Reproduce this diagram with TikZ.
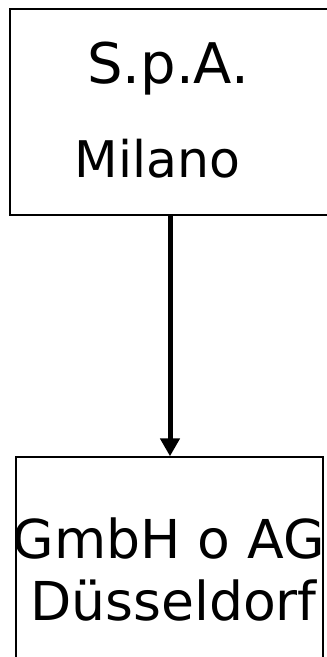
\documentclass[tikz,border=0pt]{standalone}
\usepackage{fontspec}
\setmainfont{DejaVu Sans}
\usetikzlibrary{arrows.meta}
\begin{document}
\begin{tikzpicture}[x=1pt,y=-1pt,
  box/.style={draw=black,line width=1.4pt,fill=white,inner sep=0pt},
  label/.style={anchor=base,inner sep=0pt,text=black},
  link/.style={line width=5pt,-{Triangle[length=18pt,width=19pt]}}]
\useasboundingbox (0,0) rectangle (327,657);
\clip (0,0) rectangle (327,657);
% company boxes
\node[box,minimum width=320pt,minimum height=206pt] (spa) at (170,112) {};
\node[box,minimum width=307pt,minimum height=250pt] (gmbh) at (169.5,582) {};
% labels
\node[label,font=\fontsize{56}{62}\selectfont] (spaname) at (168,83) {S.p.A.};
\node[label,font=\fontsize{50.5}{56}\selectfont] (spacity) at (157.5,177) {Milano};
\node[label,font=\fontsize{53.6}{60}\selectfont] (gmbhname) at (169,558) {GmbH o AG};
\node[label,font=\fontsize{53.6}{60}\selectfont] (gmbhcity) at (173.5,620) {Düsseldorf};
% connector
\draw[link] (spa.south) -- (spa.south |- gmbh.north);
\end{tikzpicture}
\end{document}
